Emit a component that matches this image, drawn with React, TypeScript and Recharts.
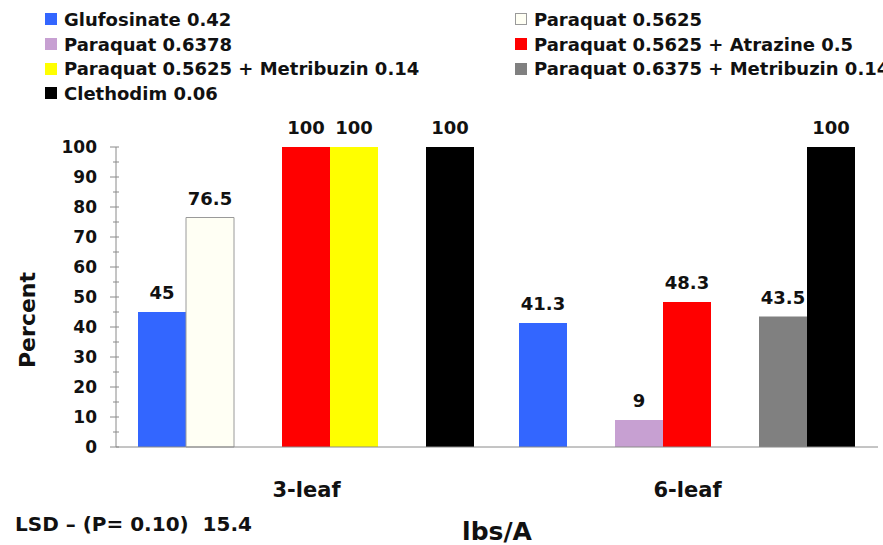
import React from 'react';
import { BarChart, Bar, XAxis, YAxis, LabelList, Legend } from 'recharts';

const categories = ['3-leaf', '6-leaf'];
const seriesNames = [
  'Glufosinate 0.42',
  'Paraquat 0.5625',
  'Paraquat 0.6378',
  'Paraquat 0.5625 + Atrazine 0.5',
  'Paraquat 0.5625 + Metribuzin 0.14',
  'Paraquat 0.6375 + Metribuzin 0.14',
  'Clethodim 0.06',
];
const glufosinate = [45, 41.3];
const paraquat05625 = [76.5, null];
const paraquat06378 = [null, 9];
const paraquatAtrazine = [100, 48.3];
const paraquatMetribuzin014 = [100, null];
const paraquat06375Metribuzin = [null, 43.5];
const clethodim = [100, 100];
const seriesValues = [
  glufosinate,
  paraquat05625,
  paraquat06378,
  paraquatAtrazine,
  paraquatMetribuzin014,
  paraquat06375Metribuzin,
  clethodim,
];
const yTicks = [0, 5, 10, 15, 20, 25, 30, 35, 40, 45, 50, 55, 60, 65, 70, 75, 80, 85, 90, 95, 100];
const xTitle = 'lbs/A';
const yTitle = 'Percent';
const footnote = 'LSD \u2013 (P= 0.10)  15.4';

const seriesFill = ['#3366FF', '#FFFFF4', '#C7A0D2', '#FF0000', '#FFFF00', '#808080', '#000000'];
const seriesStroke = ['none', '#9A9A9A', 'none', 'none', 'none', 'none', 'none'];

const FONT = '"DejaVu Sans", sans-serif';

const data = categories.map((c, i) => {
  const row: Record<string, any> = { category: c };
  seriesValues.forEach((vals, s) => {
    row['s' + s] = vals[i];
  });
  return row;
});

const renderYTick = (props: any) => {
  const { x, y, payload } = props;
  const v = payload.value as number;
  const major = v % 10 === 0;
  return (
    <g>
      <line x1={major ? x - 6 : x - 3} x2={x + 3} y1={y} y2={y} stroke="#8a8a8a" strokeWidth={1} />
      {major && (
        <text x={x - 19} y={y} dy="0.36em" textAnchor="end" fontFamily={FONT} fontWeight="bold" fontSize={17} fill="#111">
          {v}
        </text>
      )}
    </g>
  );
};

const renderXTick = (props: any) => {
  const { x, y, payload } = props;
  return (
    <text x={x} y={y + 48} textAnchor="middle" fontFamily={FONT} fontWeight="bold" fontSize={21} fill="#111">
      {payload.value}
    </text>
  );
};

const renderXLabel = (props: any) => {
  const vb = props.viewBox || {};
  return (
    <text x={vb.x + vb.width / 2} y={540} textAnchor="middle" fontFamily={FONT} fontWeight="bold" fontSize={25} fill="#111">
      {xTitle}
    </text>
  );
};

const renderYLabel = () => (
  <text x={35} y={320} transform="rotate(-90 35 320)" textAnchor="middle" fontFamily={FONT} fontWeight="bold" fontSize={22} fill="#111">
    {yTitle}
  </text>
);

const legendCols = [45, 515];
const legendRows = [19, 44, 68.5, 93];

const renderLegend = () => (
  <div style={{ position: 'relative', width: 883, height: 110, fontFamily: FONT, fontWeight: 'bold', fontSize: 18, color: '#111' }}>
    {seriesNames.map((name, i) => {
      const col = i % 2;
      const row = Math.floor(i / 2);
      return (
        <div
          key={name}
          style={{
            position: 'absolute',
            left: legendCols[col],
            top: legendRows[row] - 12,
            height: 24,
            display: 'flex',
            alignItems: 'center',
            whiteSpace: 'nowrap',
          }}
        >
          <span
            style={{
              display: 'inline-block',
              width: 12,
              height: 12,
              background: seriesFill[i],
              border: seriesStroke[i] === 'none' ? '1px solid ' + seriesFill[i] : '1px solid ' + seriesStroke[i],
              marginRight: 7,
              boxSizing: 'border-box',
            }}
          />
          <span>{name}</span>
        </div>
      );
    })}
  </div>
);

export default function App() {
  return (
    <div style={{ position: 'absolute', left: 0, top: 0, width: 883, height: 545, overflow: 'hidden', background: '#fff' }}>
      <BarChart
        width={883}
        height={545}
        data={data}
        margin={{ top: 147, right: 5, bottom: 58, left: 56 }}
        barCategoryGap={22}
        barGap={0}
      >
        <XAxis
          dataKey="category"
          height={40}
          tickLine={false}
          tickSize={0}
          tick={renderXTick}
          axisLine={{ stroke: '#8a8a8a' }}
          label={renderXLabel}
          interval={0}
        />
        <YAxis
          width={60}
          domain={[0, 100]}
          ticks={yTicks}
          interval={0}
          tickLine={false}
          tickSize={0}
          tickMargin={0}
          tick={renderYTick}
          axisLine={{ stroke: '#8a8a8a' }}
          label={renderYLabel}
        />
        <Legend
          layout="vertical"
          align="center"
          verticalAlign="middle"
          wrapperStyle={{ position: 'absolute', top: 0, left: 0, width: 883, height: 110 }}
          content={renderLegend}
        />
        {seriesNames.map((name, s) => (
          <Bar
            key={name}
            dataKey={'s' + s}
            name={name}
            fill={seriesFill[s]}
            stroke={seriesStroke[s]}
            strokeWidth={seriesStroke[s] === 'none' ? 0 : 1}
            isAnimationActive={false}
          >
            <LabelList
              dataKey={'s' + s}
              position="top"
              offset={13}
              fontFamily={FONT}
              fontWeight="bold"
              fontSize={18}
              fill="#111"
            />
          </Bar>
        ))}
      </BarChart>
      <div
        style={{
          position: 'absolute',
          left: 15,
          top: 512,
          fontFamily: FONT,
          fontWeight: 'bold',
          fontSize: 20,
          color: '#111',
          whiteSpace: 'pre',
          lineHeight: '24px',
        }}
      >
        {footnote}
      </div>
    </div>
  );
}
